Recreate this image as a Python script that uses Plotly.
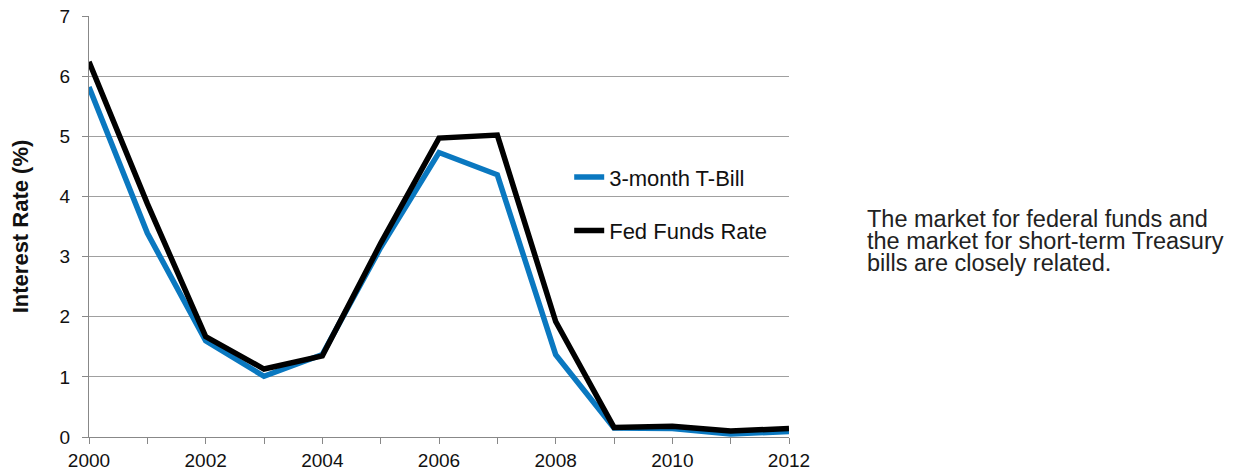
import plotly.graph_objects as go

years = list(range(2000, 2013))
tbill = [5.82, 3.39, 1.60, 1.01, 1.37, 3.15, 4.73, 4.36, 1.37, 0.15, 0.14, 0.05, 0.09]
fedfunds = [6.24, 3.88, 1.67, 1.13, 1.35, 3.22, 4.97, 5.02, 1.92, 0.16, 0.18, 0.10, 0.14]
series_names = ["3-month T-Bill", "Fed Funds Rate"]
x_ticks = list(range(2000, 2013, 2))
y_title = "Interest Rate (%)"
note_lines = ["The market for federal funds and",
              "the market for short-term Treasury",
              "bills are closely related."]

fig = go.Figure()
fig.add_trace(go.Scatter(x=years, y=tbill, mode="lines", name=series_names[0],
                         line=dict(color="#0a78c0", width=5.5), legendgroup="a"))
fig.add_trace(go.Scatter(x=years, y=fedfunds, mode="lines", name=series_names[1],
                         line=dict(color="#000000", width=5.5), legendgroup="b"))

font = "Liberation Sans, Arial, sans-serif"
# page body has an 8px margin: figure is shifted by 8px, so compensate
fig.update_layout(
    width=1238, height=465,
    margin=dict(l=81, r=457, t=8, b=36, autoexpand=False),
    paper_bgcolor="white", plot_bgcolor="white",
    font=dict(family=font, size=19, color="#111"),
    showlegend=True,
    legend=dict(x=0.686, y=0.667, xanchor="left", yanchor="top",
                font=dict(size=22, color="#111"), tracegroupgap=22,
                bgcolor="rgba(0,0,0,0)", itemwidth=30),
    xaxis=dict(range=[2000, 2012], tickmode="array", tickvals=x_ticks,
               showgrid=False, showline=True, linecolor="#888", linewidth=1,
               ticks="outside", ticklen=6, tickcolor="#888", automargin=False,
               minor=dict(tickvals=years, ticks="outside", ticklen=6, tickcolor="#888"),
               tickfont=dict(size=19), zeroline=False, ticklabelstandoff=0,
               ticklabeloverflow="allow"),
    yaxis=dict(range=[0, 7], dtick=1, showgrid=True, gridcolor="#a0a0a0", gridwidth=1,
               showline=True, linecolor="#888", linewidth=1, automargin=False,
               ticks="outside", ticklen=6, tickcolor="#888", ticklabelstandoff=8,
               tickfont=dict(size=19), zeroline=False, ticklabeloverflow="allow",
               title=dict(text="<b>" + y_title + "</b>", font=dict(size=22), standoff=24)),
)
for i, line in enumerate(note_lines):
    fig.add_annotation(xref="paper", yref="paper", x=1.109, y=0.517 - i * 0.0523,
                       xanchor="left", yanchor="middle",
                       text=line, showarrow=False, align="left",
                       font=dict(size=23.5, color="#222"))
fig.write_html("out.html")
